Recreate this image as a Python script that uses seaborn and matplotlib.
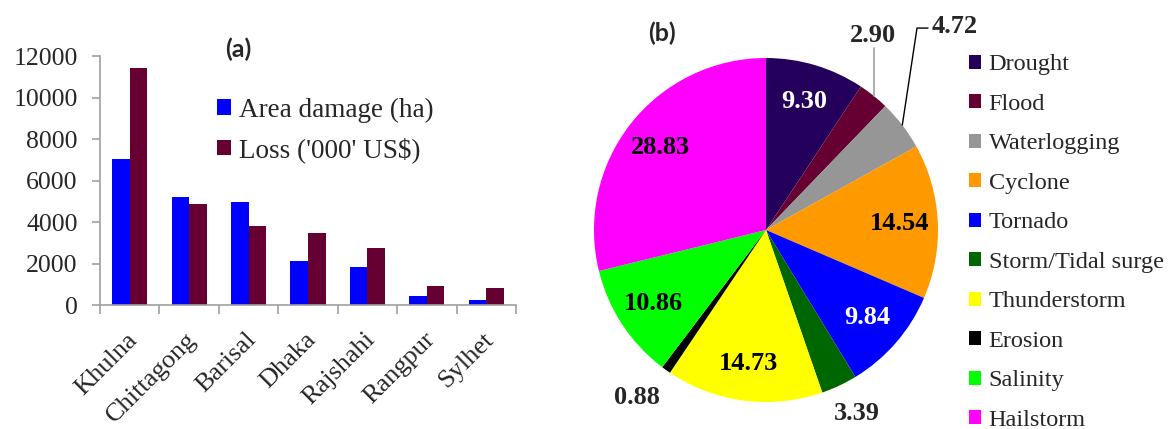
import matplotlib.pyplot as plt
import matplotlib.transforms as mtransforms
from matplotlib.patches import Patch
import numpy as np
import pandas as pd
import seaborn as sns

# (a) damage by division
divisions = ['Khulna', 'Chittagong', 'Barisal', 'Dhaka', 'Rajshahi', 'Rangpur', 'Sylhet']
area_damage = [7050, 5200, 4950, 2100, 1850, 450, 250]
loss_usd = [11400, 4850, 3800, 3450, 2750, 900, 800]
measures = ['Area damage (ha)', "Loss ('000' US$)"]
bar_colors = ['#0000FF', '#660033']

# (b) share of each hazard (%)
hazards = ['Drought', 'Flood', 'Waterlogging', 'Cyclone', 'Tornado',
           'Storm/Tidal surge', 'Thunderstorm', 'Erosion', 'Salinity', 'Hailstorm']
shares = [9.30, 2.90, 4.72, 14.54, 9.84, 3.39, 14.73, 0.88, 10.86, 28.83]
pie_colors = ['#24005C', '#660033', '#969696', '#FF9900', '#0000FF',
              '#006600', '#FFFF00', '#000000', '#00FF00', '#FF00FF']

sns.set_style('white')
plt.rcParams['font.family'] = ['Liberation Serif', 'DejaVu Serif']

df = pd.DataFrame({
    'Division': divisions * 2,
    'Measure': [measures[0]] * len(divisions) + [measures[1]] * len(divisions),
    'Value': area_damage + loss_usd,
})

fig = plt.figure(figsize=(11.69, 4.29), dpi=100)
axis_grey = '#A0A0A0'

# ---- bar chart ----
ax = fig.add_axes([0.0855, 0.289, 0.3559, 0.5804])
sns.barplot(data=df, x='Division', y='Value', hue='Measure', order=divisions,
            hue_order=measures, palette=dict(zip(measures, bar_colors)),
            saturation=1, width=0.59, errorbar=None, legend=False,
            linewidth=0, ax=ax)
ax.set_xlim(-0.5, len(divisions) - 0.5)
ax.set_ylim(0, 12000)
ax.set_yticks(range(0, 12001, 2000))
ax.set_xlabel('')
ax.set_ylabel('')
for side in ['top', 'right']:
    ax.spines[side].set_visible(False)
for side in ['left', 'bottom']:
    ax.spines[side].set_color(axis_grey)
    ax.spines[side].set_linewidth(1.2)
ax.tick_params(axis='y', direction='out', length=6, width=1.2, color=axis_grey,
               labelsize=18.5, pad=10, left=True)
ax.set_xticks(np.arange(-0.5, len(divisions), 1.0), minor=True)
ax.tick_params(axis='x', which='minor', direction='out', length=6.5, width=1.2,
               color=axis_grey, bottom=True)
ax.tick_params(axis='x', which='major', length=0, labelsize=19, pad=17)
offset = mtransforms.ScaledTranslation(-2.5 / 72, 0, fig.dpi_scale_trans)
for lab in ax.get_xticklabels():
    lab.set_rotation(45)
    lab.set_ha('right')
    lab.set_va('top')
    lab.set_rotation_mode('anchor')
    lab.set_transform(lab.get_transform() + offset)

handles = [Patch(facecolor=c, edgecolor='none') for c in bar_colors]
fig.legend(handles, measures, loc='upper left', bbox_to_anchor=(0.1856, 0.773),
           frameon=False, fontsize=19.5, borderpad=0, borderaxespad=0,
           handlelength=0.5, handleheight=0.5, handletextpad=0.3, labelspacing=0.55)
fig.text(238 / 1169, 1 - 49 / 429, '(a)', family='Lato', weight='bold',
         fontsize=18, ha='center', va='center')

# ---- pie chart ----
pax = fig.add_axes([0.5081, 0.0629, 0.2943, 0.8019])
wedges, _ = pax.pie(shares, colors=pie_colors, startangle=90, counterclock=False,
                    radius=1, wedgeprops=dict(linewidth=0))
pax.set_xlim(-1, 1)
pax.set_ylim(-1, 1)
pax.set_aspect('equal')

inside_white = {'Drought', 'Tornado'}
outside = {'Flood', 'Waterlogging', 'Erosion', 'Storm/Tidal surge'}
for w, name, val in zip(wedges, hazards, shares):
    mid = np.deg2rad((w.theta1 + w.theta2) / 2)
    ex, ey = np.cos(mid), np.sin(mid)
    txt = f'{val:.2f}'
    if name not in outside:
        pax.text(0.78 * ex, 0.78 * ey, txt, ha='center', va='center', fontsize=19,
                 weight='bold', color='white' if name in inside_white else 'black')
    elif name == 'Flood':
        pax.plot([ex, ex], [ey, 1.058], color='#A0A0A0', lw=1.2, clip_on=False)
        pax.text(ex - 0.006, 1.128, txt, ha='center', va='center', fontsize=19,
                 weight='bold')
    elif name == 'Waterlogging':
        pax.plot([ex, 0.878, 0.942], [ey, 1.174, 1.174], color='black', lw=1.0,
                 clip_on=False)
        pax.text(0.965, 1.185, txt, ha='left', va='center', fontsize=19,
                 weight='bold')
    elif name == 'Erosion':
        pax.text(-0.75, -0.971, txt, ha='center', va='center', fontsize=19,
                 weight='bold')
    else:
        pax.text(0.529, -1.064, txt, ha='center', va='center', fontsize=19,
                 weight='bold')

fig.legend(wedges, hazards, loc='upper left', bbox_to_anchor=(0.829, 0.873),
           frameon=False, fontsize=17.5, borderpad=0, borderaxespad=0,
           handlelength=0.5, handleheight=0.5, handletextpad=0.3, labelspacing=0.76)
fig.text(662 / 1169, 1 - 33 / 429, '(b)', family='Lato', weight='bold',
         fontsize=18, ha='center', va='center')

fig.savefig('out.png', dpi=100)
